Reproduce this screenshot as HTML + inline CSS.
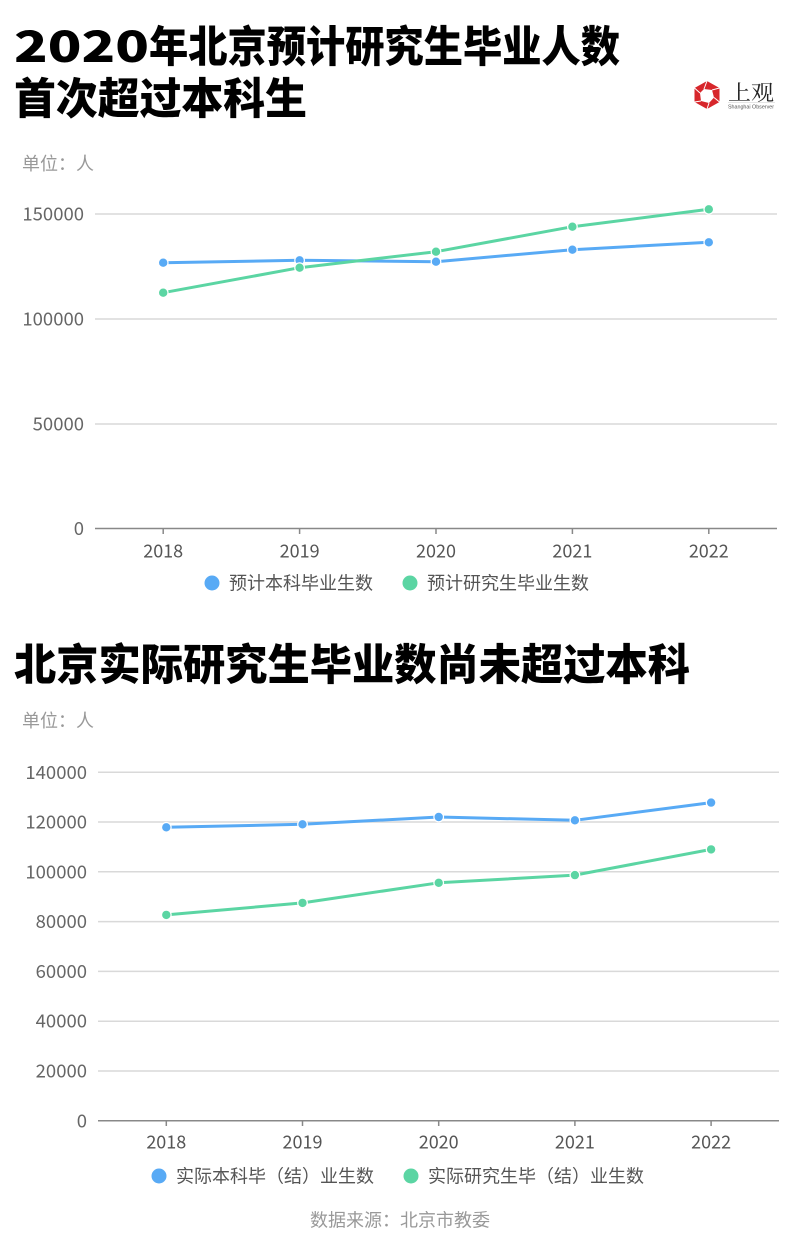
<!DOCTYPE html>
<html><head><meta charset="utf-8">
<style>
html,body{margin:0;padding:0;background:#fff;}
svg{display:block;}
text{font-family:"Noto Sans CJK SC","Liberation Sans",sans-serif;}
.cjk{font-family:"Noto Sans CJK SC","WenQuanYi Zen Hei",sans-serif;}
.title{font-family:"Noto Sans CJK SC",sans-serif;font-weight:900;font-size:43px;fill:#000;}
.tick{font-size:18.5px;fill:#666;}
.lab{font-size:18px;fill:#555;}
.unit{font-size:18px;fill:#999;}
</style></head>
<body>
<svg width="800" height="1252" viewBox="0 0 800 1252" xmlns="http://www.w3.org/2000/svg">
<rect width="800" height="1252" fill="#fff"/>

<!-- Title 1 -->
<text class="title" x="14" y="62" textLength="135" lengthAdjust="spacingAndGlyphs">2020</text>
<text class="title" x="149" y="62" textLength="471" lengthAdjust="spacingAndGlyphs">年北京预计研究生毕业人数</text>
<text class="title" x="14" y="114" textLength="293" lengthAdjust="spacingAndGlyphs">首次超过本科生</text>

<!-- Logo -->
<g>
<polygon points="707,81 719.5,88 719.5,102 707,109 694.5,102 694.5,88" fill="#d7262b"/>
<polygon points="704,89 712,90 714,97.5 709,103 701,101 700,93" fill="#fff"/>
<line x1="707" y1="81" x2="704" y2="89" stroke="#fff" stroke-width="1"/>
<line x1="719.5" y1="88" x2="712" y2="90" stroke="#fff" stroke-width="1"/>
<line x1="719.5" y1="102" x2="714" y2="97.5" stroke="#fff" stroke-width="1"/>
<line x1="707" y1="109" x2="709" y2="103" stroke="#fff" stroke-width="1"/>
<line x1="694.5" y1="102" x2="701" y2="101" stroke="#fff" stroke-width="1"/>
<line x1="694.5" y1="88" x2="700" y2="93" stroke="#fff" stroke-width="1"/>
<text x="728" y="100" style="font-family:'Noto Serif CJK SC','Noto Sans CJK SC',serif;font-size:21px;fill:#222;" textLength="46" lengthAdjust="spacingAndGlyphs">上观</text>
<line x1="728" y1="102.5" x2="775" y2="102.5" stroke="#ccc" stroke-width="0.6"/>
<text x="728" y="108.5" style="font-family:'Liberation Sans',sans-serif;font-size:5.5px;fill:#555;" textLength="46" lengthAdjust="spacingAndGlyphs">Shanghai Observer</text>
</g>

<!-- Chart 1 -->
<text class="unit cjk" x="22" y="170">单位：人</text>
<g stroke="#d9d9d9" stroke-width="1.5">
<line x1="95" y1="214" x2="777" y2="214"/>
<line x1="95" y1="319" x2="777" y2="319"/>
<line x1="95" y1="424" x2="777" y2="424"/>
</g>
<line x1="95" y1="528.5" x2="777" y2="528.5" stroke="#888" stroke-width="1.5"/>
<g stroke="#888" stroke-width="1.5">
<line x1="163.2" y1="528" x2="163.2" y2="534"/>
<line x1="299.6" y1="528" x2="299.6" y2="534"/>
<line x1="436" y1="528" x2="436" y2="534"/>
<line x1="572.4" y1="528" x2="572.4" y2="534"/>
<line x1="708.8" y1="528" x2="708.8" y2="534"/>
</g>
<g class="tick" text-anchor="end">
<text x="84" y="220.5">150000</text>
<text x="84" y="325.5">100000</text>
<text x="84" y="430.5">50000</text>
<text x="84" y="535">0</text>
</g>
<g class="lab" text-anchor="middle">
<text x="163.2" y="557.5">2018</text>
<text x="299.6" y="557.5">2019</text>
<text x="436" y="557.5">2020</text>
<text x="572.4" y="557.5">2021</text>
<text x="708.8" y="557.5">2022</text>
</g>
<polyline points="163.2,262.7 299.6,260.3 436,261.7 572.4,249.7 708.8,242.3" fill="none" stroke="#58aaf5" stroke-width="3" stroke-linejoin="round"/>
<polyline points="163.2,292.7 299.6,267.7 436,251.7 572.4,226.7 708.8,209.3" fill="none" stroke="#5bd5a3" stroke-width="3" stroke-linejoin="round"/>
<g fill="#58aaf5" stroke="#fff" stroke-width="1.2">
<circle cx="163.2" cy="262.7" r="4.8"/><circle cx="299.6" cy="260.3" r="4.8"/><circle cx="436" cy="261.7" r="4.8"/><circle cx="572.4" cy="249.7" r="4.8"/><circle cx="708.8" cy="242.3" r="4.8"/>
</g>
<g fill="#5bd5a3" stroke="#fff" stroke-width="1.2">
<circle cx="163.2" cy="292.7" r="4.8"/><circle cx="299.6" cy="267.7" r="4.8"/><circle cx="436" cy="251.7" r="4.8"/><circle cx="572.4" cy="226.7" r="4.8"/><circle cx="708.8" cy="209.3" r="4.8"/>
</g>
<circle cx="212" cy="583" r="7.5" fill="#58aaf5"/>
<text class="lab cjk" x="229" y="589.5">预计本科毕业生数</text>
<circle cx="410" cy="583" r="7.5" fill="#5bd5a3"/>
<text class="lab cjk" x="427" y="589.5">预计研究生毕业生数</text>

<!-- Title 2 -->
<text class="title" x="14" y="680" textLength="676" lengthAdjust="spacingAndGlyphs">北京实际研究生毕业数尚未超过本科</text>

<!-- Chart 2 -->
<text class="unit cjk" x="22" y="727">单位：人</text>
<g stroke="#d9d9d9" stroke-width="1.5">
<line x1="98" y1="772.3" x2="779" y2="772.3"/>
<line x1="98" y1="822" x2="779" y2="822"/>
<line x1="98" y1="871.8" x2="779" y2="871.8"/>
<line x1="98" y1="921.6" x2="779" y2="921.6"/>
<line x1="98" y1="971.4" x2="779" y2="971.4"/>
<line x1="98" y1="1021.2" x2="779" y2="1021.2"/>
<line x1="98" y1="1071" x2="779" y2="1071"/>
</g>
<line x1="98" y1="1120.8" x2="779" y2="1120.8" stroke="#888" stroke-width="1.5"/>
<g stroke="#888" stroke-width="1.5">
<line x1="166.3" y1="1120" x2="166.3" y2="1126"/>
<line x1="302.5" y1="1120" x2="302.5" y2="1126"/>
<line x1="438.7" y1="1120" x2="438.7" y2="1126"/>
<line x1="574.9" y1="1120" x2="574.9" y2="1126"/>
<line x1="711.1" y1="1120" x2="711.1" y2="1126"/>
</g>
<g class="tick" text-anchor="end">
<text x="87" y="778.8">140000</text>
<text x="87" y="828.5">120000</text>
<text x="87" y="878.3">100000</text>
<text x="87" y="928.1">80000</text>
<text x="87" y="977.9">60000</text>
<text x="87" y="1027.7">40000</text>
<text x="87" y="1077.5">20000</text>
<text x="87" y="1127.3">0</text>
</g>
<g class="lab" text-anchor="middle">
<text x="166.3" y="1148.5">2018</text>
<text x="302.5" y="1148.5">2019</text>
<text x="438.7" y="1148.5">2020</text>
<text x="574.9" y="1148.5">2021</text>
<text x="711.1" y="1148.5">2022</text>
</g>
<polyline points="166.3,827.3 302.5,824.3 438.7,817 574.9,820.3 711.1,802.6" fill="none" stroke="#58aaf5" stroke-width="3" stroke-linejoin="round"/>
<polyline points="166.3,914.9 302.5,902.9 438.7,882.8 574.9,875.1 711.1,849.4" fill="none" stroke="#5bd5a3" stroke-width="3" stroke-linejoin="round"/>
<g fill="#58aaf5" stroke="#fff" stroke-width="1.2">
<circle cx="166.3" cy="827.3" r="4.8"/><circle cx="302.5" cy="824.3" r="4.8"/><circle cx="438.7" cy="817" r="4.8"/><circle cx="574.9" cy="820.3" r="4.8"/><circle cx="711.1" cy="802.6" r="4.8"/>
</g>
<g fill="#5bd5a3" stroke="#fff" stroke-width="1.2">
<circle cx="166.3" cy="914.9" r="4.8"/><circle cx="302.5" cy="902.9" r="4.8"/><circle cx="438.7" cy="882.8" r="4.8"/><circle cx="574.9" cy="875.1" r="4.8"/><circle cx="711.1" cy="849.4" r="4.8"/>
</g>
<circle cx="159" cy="1176" r="7.5" fill="#58aaf5"/>
<text class="lab cjk" x="176" y="1182.5">实际本科毕（结）业生数</text>
<circle cx="411" cy="1176" r="7.5" fill="#5bd5a3"/>
<text class="lab cjk" x="428" y="1182.5">实际研究生毕（结）业生数</text>

<text class="unit cjk" x="400" y="1226.5" text-anchor="middle">数据来源：北京市教委</text>
</svg>
</body></html>
